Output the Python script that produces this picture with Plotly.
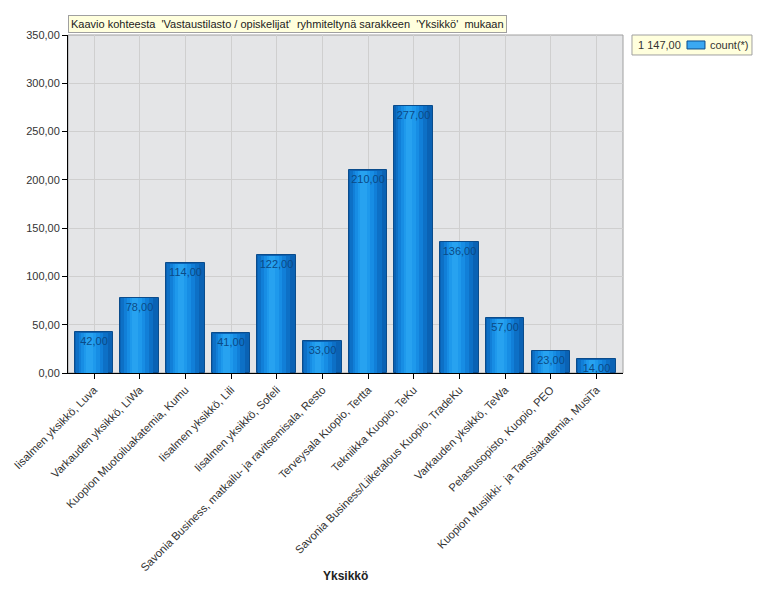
import plotly.graph_objects as go

categories = [
    "Iisalmen yksikkö, Luva",
    "Varkauden yksikkö, LiWa",
    "Kuopion Muotoiluakatemia, Kumu",
    "Iisalmen yksikkö, Lili",
    "Iisalmen yksikkö, Sofeli",
    "Savonia Business, matkailu- ja ravitsemisala, Resto",
    "Terveysala Kuopio, Tertta",
    "Tekniikka Kuopio, TeKu",
    "Savonia Business/Liiketalous Kuopio, TradeKu",
    "Varkauden yksikkö, TeWa",
    "Pelastusopisto, Kuopio, PEO",
    "Kuopion Musiikki-  ja Tanssiakatemia, MusiTa",
]
values = [42, 78, 114, 41, 122, 33, 210, 277, 136, 57, 23, 14]
series_name = "count(*)"
title_text = "Kaavio kohteesta  'Vastaustilasto / opiskelijat'  ryhmiteltynä sarakkeen  'Yksikkö'  mukaan"
x_title = "Yksikkö"

xs = list(range(len(categories)))
nb = lambda s: s.replace("  ", "\u00a0\u00a0")

fig = go.Figure()

BW = 0.846
fig.add_trace(go.Bar(
    x=xs, y=values, width=BW, offset=-BW / 2,
    marker=dict(color="#0A62B4", line=dict(color="#0A4C8C", width=1)),
    name=series_name, showlegend=False, hoverinfo="skip",
))
layers = [
    (0.70, -0.40, "#0D70C6"),
    (0.54, -0.34, "#117FD8"),
    (0.40, -0.28, "#178DE4"),
    (0.26, -0.22, "#1E99EC"),
    (0.14, -0.17, "#27A2F0"),
]
for w, o, c in layers:
    fig.add_trace(go.Bar(
        x=xs, y=[v - 0.7 for v in values], width=w, offset=o,
        marker=dict(color=c, line=dict(width=0)),
        showlegend=False, hoverinfo="skip",
    ))

# value labels (transparent overlay bar carrying the text)
fig.add_trace(go.Bar(
    x=xs, y=values, width=BW, offset=-BW / 2,
    marker=dict(color="rgba(0,0,0,0)", line=dict(width=0)),
    text=[f"{v:.2f}".replace(".", ",") for v in values],
    textposition="inside", insidetextanchor="end", constraintext="none",
    textangle=0,
    insidetextfont=dict(family="Liberation Sans, Arial", size=11, color="#0B4A86"),
    showlegend=False, hoverinfo="skip", cliponaxis=False,
))

total = sum(values)
total_txt = f"{total:,.2f}".replace(",", " ").replace(".", ",")

fig.update_layout(
    width=764, height=600,
    margin=dict(l=68, r=141, t=35, b=226.5, pad=0, autoexpand=False),
    paper_bgcolor="white",
    plot_bgcolor="#E4E5E7",
    barmode="overlay",
    bargap=0,
    separators=", ",
    showlegend=False,
    font=dict(family="Liberation Sans, Arial", size=11, color="#333333"),
    xaxis=dict(
        range=[-0.57, 11.58],
        tickmode="array", tickvals=xs, ticktext=[nb(c) for c in categories],
        tickangle=-45,
        showgrid=True, gridcolor="#CFCFCF", gridwidth=1,
        showline=True, linecolor="black", linewidth=1,
        ticks="outside", ticklen=5, tickcolor="black",
        tickfont=dict(size=11.2, color="#333333"),
        zeroline=False,
    ),
    yaxis=dict(
        range=[0, 350],
        tickmode="array", tickvals=[0, 50, 100, 150, 200, 250, 300, 350],
        tickformat=".2f",
        showgrid=True, gridcolor="#CFCFCF", gridwidth=1,
        showline=True, linecolor="black", linewidth=1,
        ticks="outside", ticklen=5, tickcolor="black",
        tickfont=dict(size=11, color="#333333"),
        zeroline=False,
    ),
    annotations=[
        dict(
            text=nb(title_text), xref="paper", yref="paper",
            x=0, y=1.0325, xanchor="left", yanchor="middle",
            showarrow=False, bgcolor="#FFFFDD", bordercolor="#A0A0A0",
            borderwidth=1, borderpad=2,
            font=dict(size=11, color="#222222"),
        ),
        dict(
            text=total_txt, xref="paper", yref="paper",
            x=1.0235, y=0.9705, xanchor="left", yanchor="middle",
            showarrow=False, font=dict(size=11, color="#333333"),
        ),
        dict(
            text=series_name, xref="paper", yref="paper",
            x=1.153, y=0.9705, xanchor="left", yanchor="middle",
            showarrow=False, font=dict(size=11, color="#333333"),
        ),
        dict(
            text="<b>" + x_title + "</b>", xref="paper", yref="paper",
            x=0.5, y=-0.601, xanchor="center", yanchor="middle",
            showarrow=False, font=dict(size=12, color="#222222"),
        ),
    ],
    shapes=[
        dict(type="rect", xref="paper", yref="paper", x0=0, x1=1, y0=0, y1=1,
             line=dict(color="#A0A0A0", width=1), layer="below"),
        dict(type="rect", xref="paper", yref="paper",
             x0=1.0162, x1=1.2324, y0=0.9409, y1=1.0,
             fillcolor="#FFFFDD", line=dict(color="#A0A0A0", width=1)),
        dict(type="rect", xref="paper", yref="paper",
             x0=1.1153, x1=1.1477, y0=0.9587, y1=0.9823,
             fillcolor="#3AA8F2", line=dict(color="#0A4C8C", width=1)),
    ],
)

fig.write_html("out.html", config={"displayModeBar": False},
               post_script="document.body.style.margin='0';")
